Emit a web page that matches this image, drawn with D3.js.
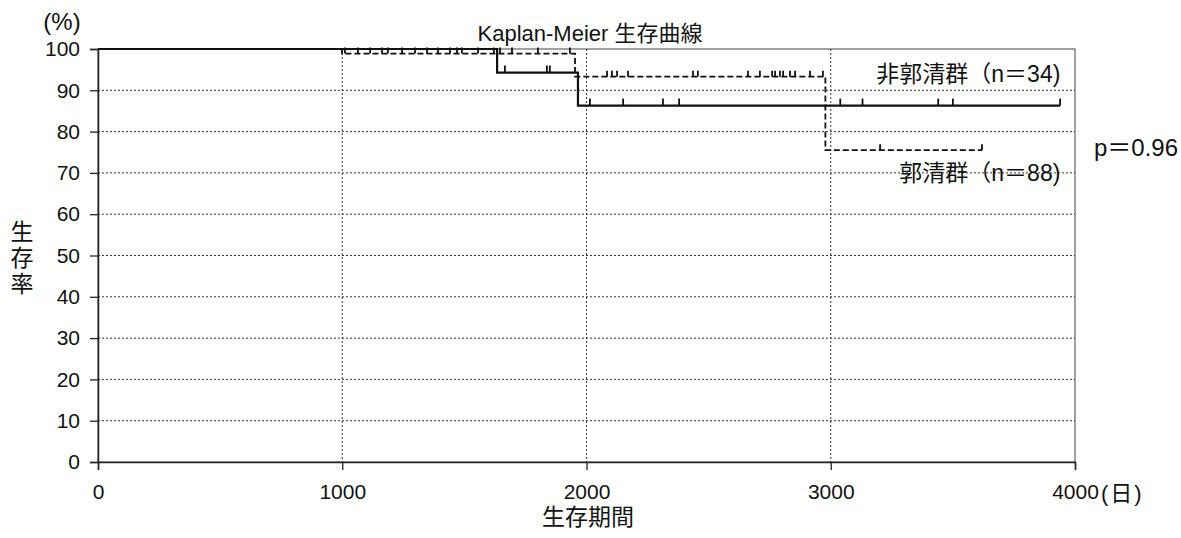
<!DOCTYPE html>
<html>
<head>
<meta charset="utf-8">
<script src="https://cdn.jsdelivr.net/npm/d3@7"></script>
<style>
  body { margin: 0; background: #fff; }
  svg text { font-family: "Liberation Sans", Arial, "Noto Sans CJK JP", sans-serif; fill: #111; }
  .cjk { font-family: "Liberation Sans", "Noto Sans CJK JP", sans-serif; }
</style>
</head>
<body>
<svg id="chart"></svg>
<script>
// step change points (day, survival %)
var solidTimes = [0, 1634, 1965];
var solidSurv = [100, 94.3, 86.3];
var solidEnd = 3939;
var solidCensor = [1666, 1838, 1850, 2014, 2150, 2313, 2379, 3039, 3130, 3440, 3500, 3939];

var dashedTimes = [0, 999, 1953, 2978];
var dashedSurv = [100, 98.9, 93.3, 75.5];
var dashedEnd = 3619;
var dashedCensor = [1011, 1064, 1114, 1163, 1187, 1245, 1298, 1347, 1392, 1441, 1470, 1490,
    1556, 1621, 1646, 1695, 1801, 1932, 2084, 2104, 2125, 2170, 2436, 2456, 2661, 2710,
    2760, 2772, 2792, 2805, 2833, 2854, 2915, 2968, 3202, 3619];

var xTicks = [0, 1000, 2000, 3000, 4000];
var yTicks = [0, 10, 20, 30, 40, 50, 60, 70, 80, 90, 100];

var svgWidth = 1181, svgHeight = 538;
var margin = {top: 49, right: 106, bottom: 76, left: 98};
var width = svgWidth - margin.left - margin.right;
var height = svgHeight - margin.top - margin.bottom;

var svg = d3.select('#chart').attr('width', svgWidth).attr('height', svgHeight);
var g = svg.append('g').attr('transform', 'translate(' + margin.left + ',' + margin.top + ')');

var x = d3.scaleLinear().domain([0, 4000]).range([0, width]);
var y = d3.scaleLinear().domain([0, 100]).range([height, 0]);

// grid
g.selectAll('.hgrid').data(yTicks.filter(function(d) { return d > 0 && d < 100; }))
    .enter().append('line')
    .attr('x1', 0).attr('x2', width)
    .attr('y1', function(d) { return y(d); }).attr('y2', function(d) { return y(d); })
    .attr('stroke', '#333').attr('stroke-width', 1).attr('stroke-dasharray', '2,2');
g.selectAll('.vgrid').data(xTicks.filter(function(d) { return d > 0 && d < 4000; }))
    .enter().append('line')
    .attr('y1', 0).attr('y2', height)
    .attr('x1', function(d) { return x(d); }).attr('x2', function(d) { return x(d); })
    .attr('stroke', '#333').attr('stroke-width', 1).attr('stroke-dasharray', '2,2');

// group labels
function label(txt, lx, ly, anchor, size) {
    return g.append('text').attr('class', 'cjk').attr('x', lx).attr('y', ly)
        .attr('text-anchor', anchor).attr('font-size', size).attr('dominant-baseline', 'central')
        .text(txt);
}
label('郭清群（n＝88)', x(3940), y(70), 'end', 23);
label('非郭清群（n＝34)', x(3940), y(93.9), 'end', 23);

// frame
g.append('rect').attr('x', 0).attr('y', 0).attr('width', width).attr('height', height)
    .attr('fill', 'none').attr('stroke', '#444').attr('stroke-width', 1);

// axes
var yAxis = d3.axisLeft(y).tickValues(yTicks).tickSize(8).tickPadding(10);
var xAxis = d3.axisBottom(x).tickValues(xTicks).tickFormat(d3.format('d')).tickSize(8).tickPadding(14);
var ya = g.append('g').call(yAxis);
var xa = g.append('g').attr('transform', 'translate(0,' + height + ')').call(xAxis);
[ya, xa].forEach(function(a) {
    a.select('.domain').attr('stroke', '#222').attr('stroke-width', 1.5);
    a.selectAll('.tick line').attr('stroke', '#222').attr('stroke-width', 1.3);
    a.selectAll('.tick text').attr('font-size', 21).attr('fill', '#111')
        .attr('font-family', '"Liberation Sans", Arial, sans-serif');
});

// step curves
function stepData(times, surv, end) {
    var pts = times.map(function(t, i) { return {t: t, s: surv[i]}; });
    pts.push({t: end, s: surv[surv.length - 1]});
    return pts;
}
function survAt(times, surv, t) {
    var s = surv[0];
    for (var i = 0; i < times.length; i++) { if (times[i] <= t) s = surv[i]; }
    return s;
}
var line = d3.line().x(function(d) { return x(d.t); }).y(function(d) { return y(d.s); })
    .curve(d3.curveStepAfter);

g.append('path').datum(stepData(dashedTimes, dashedSurv, dashedEnd))
    .attr('fill', 'none').attr('stroke', '#111').attr('stroke-width', 1.8)
    .attr('stroke-dasharray', '6,3').attr('d', line);
g.append('path').datum(stepData(solidTimes, solidSurv, solidEnd))
    .attr('fill', 'none').attr('stroke', '#111').attr('stroke-width', 2.2)
    .attr('d', line);

// censor marks
g.selectAll('.cs').data(solidCensor).enter().append('line')
    .attr('x1', function(d) { return x(d); }).attr('x2', function(d) { return x(d); })
    .attr('y1', function(d) { return y(survAt(solidTimes, solidSurv, d)); })
    .attr('y2', function(d) { return y(survAt(solidTimes, solidSurv, d)) - 7; })
    .attr('stroke', '#111').attr('stroke-width', 1.8);
g.selectAll('.cd').data(dashedCensor).enter().append('line')
    .attr('x1', function(d) { return x(d); }).attr('x2', function(d) { return x(d); })
    .attr('y1', function(d) { return y(survAt(dashedTimes, dashedSurv, d)); })
    .attr('y2', function(d) { return y(survAt(dashedTimes, dashedSurv, d)) - 6; })
    .attr('stroke', '#111').attr('stroke-width', 1.8);

// titles and units
svg.append('text').attr('class', 'cjk').attr('x', 590).attr('y', 33).attr('text-anchor', 'middle')
    .attr('dominant-baseline', 'central').attr('font-size', 22).text('Kaplan-Meier 生存曲線');
svg.append('text').attr('class', 'cjk').attr('x', 62).attr('y', 21).attr('text-anchor', 'middle')
    .attr('dominant-baseline', 'central').attr('font-size', 24).text('(%)');
svg.append('text').attr('class', 'cjk').attr('x', 1101).attr('y', 493).attr('text-anchor', 'start')
    .attr('dominant-baseline', 'central').attr('font-size', 22).attr('letter-spacing', 2).text('(日)');
svg.append('text').attr('class', 'cjk').attr('x', 588).attr('y', 517).attr('text-anchor', 'middle')
    .attr('dominant-baseline', 'central').attr('font-size', 23).text('生存期間');
svg.append('text').attr('class', 'cjk').attr('x', 1136).attr('y', 147).attr('text-anchor', 'middle')
    .attr('dominant-baseline', 'central').attr('font-size', 24).text('p＝0.96');
['生', '存', '率'].forEach(function(c, i) {
    svg.append('text').attr('class', 'cjk').attr('x', 22).attr('y', 232 + i * 26)
        .attr('text-anchor', 'middle').attr('dominant-baseline', 'central')
        .attr('font-size', 23).text(c);
});
</script>
</body>
</html>
